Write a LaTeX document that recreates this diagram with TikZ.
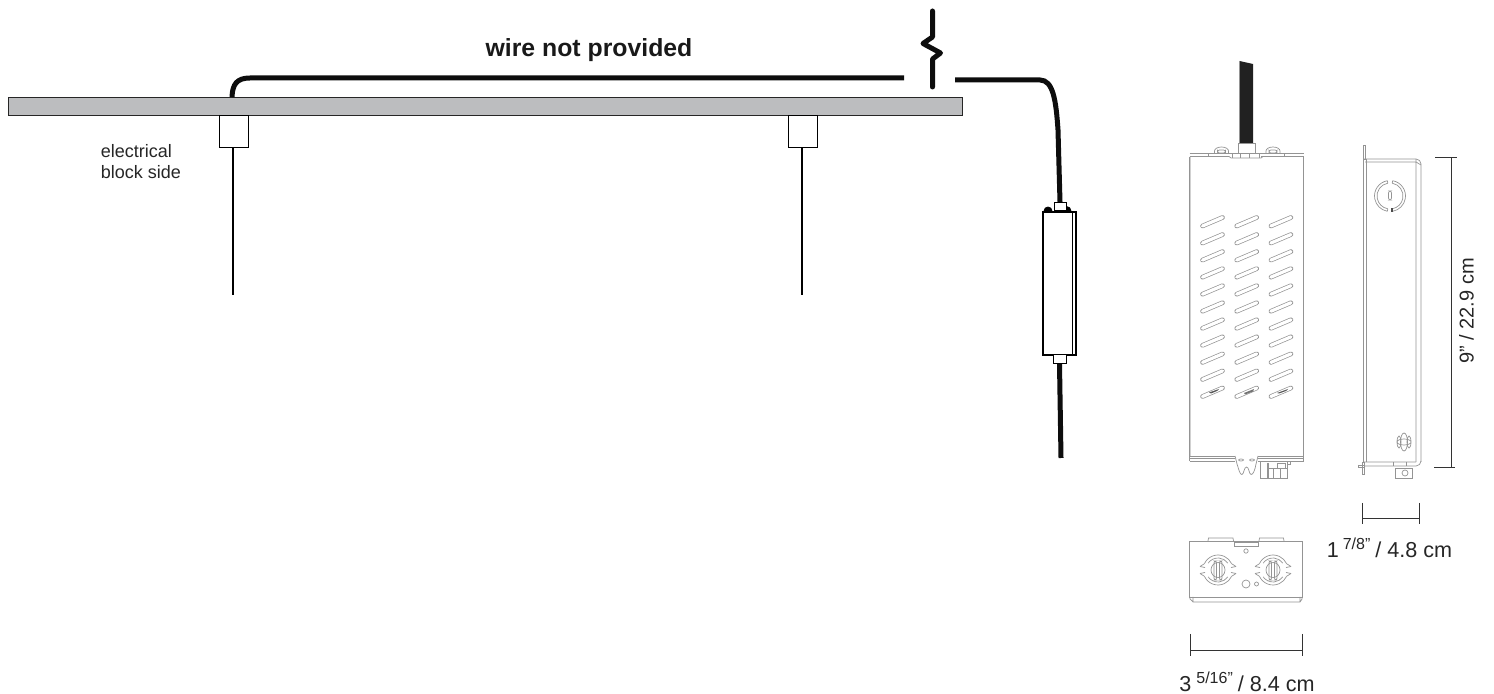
\documentclass[tikz,border=0pt]{standalone}
\usepackage{fontspec}
\setmainfont{Liberation Sans}
\newcommand{\supfrac}[1]{\raisebox{0.36em}{\fontsize{8}{9}\selectfont #1}}
\definecolor{barfill}{HTML}{BCBDBF}
\tikzset{
  x=0.5pt,y=-0.5pt,
  wire/.style={line width=2.5pt,black!95,line cap=round},
  wirebutt/.style={line width=2.5pt,black!95},
  rod/.style={line width=1pt,black},
  block/.style={draw=black,line width=0.5pt,fill=white},
  part/.style={draw=black!42,line width=0.35pt},
  partw/.style={draw=black!42,line width=0.35pt,fill=white},
  dim/.style={draw=black!80,line width=0.5pt},
  txt/.style={inner sep=0pt,font=\fontsize{9}{10.5}\selectfont,text=black!85,align=left},
  dimtxt/.style={inner sep=0pt,font=\fontsize{10.8}{13}\selectfont,text=black!85}
}
\newcommand{\carc}[5]{% cx cy r start end
  \draw[part] ({#1+#3*cos(#4)},{#2+#3*sin(#4)}) arc[start angle=#4,end angle=#5,radius=#3];
}
\begin{document}
\begin{tikzpicture}
\useasboundingbox (0,0) rectangle (1494,694);
% bar
\node[draw=black!85,fill=barfill,line width=0.5pt,minimum width=477pt,minimum height=9pt,inner sep=0pt,anchor=north west] (bar) at (8,97) {};
% left wire
\coordinate (w0) at (232,97);
\coordinate (w1) at (904,78);
\draw[wirebutt] (w0) .. controls (232.5,84) and (237,78) .. (250,78) -- (w1);
% break mark
\coordinate (b0) at (932.5,11);
\coordinate (b1) at (932.5,87);
\draw[wire,line join=round] (b0) -- (932.5,37) -- (923,43.5) -- (940.5,53) -- (932.5,59) -- (b1);
% blocks and rods
\node[block,minimum width=14.5pt,minimum height=16pt,inner sep=0pt,anchor=north west] (blockA) at (219,115) {};
\node[block,minimum width=14.5pt,minimum height=16pt,inner sep=0pt,anchor=north west] (blockB) at (788,115) {};
\coordinate (rodA) at (232.5,295);
\coordinate (rodB) at (802,295);
\draw[rod] (blockA.south -| rodA) -- (rodA);
\draw[rod] (blockB.south -| rodB) -- (rodB);
\node[txt,anchor=north west] (lab1) at (100.5,144) {electrical\\block side};
\node[inner sep=0pt,font=\fontsize{12.4}{14}\bfseries\selectfont,text=black!90] (lab2) at (589,50) {wire not provided};
% driver on the wire
\node[draw=black,line width=0.85pt,fill=white,minimum width=16.5pt,minimum height=71.5pt,inner sep=0pt,anchor=north west] (drv) at (1042,211) {};
\draw[black,line width=0.5pt] (1072.5,211) -- (1072.5,354);
\draw[black,fill=black] (1044,211) arc[start angle=-180,end angle=0,radius=4] -- cycle;
\draw[black,fill=black] (1062,211) arc[start angle=-180,end angle=0,radius=4.5] -- cycle;
\node[draw=black,line width=0.5pt,fill=white,minimum width=6pt,minimum height=4pt,inner sep=0pt,anchor=south] (drvT) at (1060,211) {};
\node[draw=black,line width=0.5pt,fill=white,minimum width=6.5pt,minimum height=4.5pt,inner sep=0pt,anchor=north] (drvB) at (1059.5,354) {};
\coordinate (r0) at (955,80);
\coordinate (r1) at (1061,458);
\draw[wirebutt] (r0) -- (1040,80) .. controls (1053,80) and (1056,100) .. (1058,130) -- (drvT.north);
\draw[wirebutt] (drvB.south) -- (r1);
% front view
\fill[black!87] (1239.5,61) -- (1253,64) -- (1253,143) -- (1239.5,143) -- cycle;
\draw[part] (1239.5,61) -- (1239.5,143);
\draw[part] (1189.5,157) -- (1189.5,461) (1303.5,157) -- (1303.5,461);
\draw[black!18,line width=0.7pt] (1190.5,157) -- (1190.5,456);
\draw[partw] (1214.5,153) -- (1214.5,151) arc[start angle=180,end angle=360,x radius=7,y radius=4] -- (1228.5,153);
\draw[part,rounded corners=1pt] (1217.5,150) rectangle (1225.5,153);
\draw[partw] (1266,153) -- (1266,151) arc[start angle=180,end angle=360,x radius=7,y radius=4] -- (1280,153);
\draw[part,rounded corners=1pt] (1269,150) rectangle (1277,153);
\draw[part] (1189.5,153.5) -- (1303.5,153.5) (1189.5,156.5) -- (1229,156.5) (1261,156.5) -- (1303.5,156.5);
\draw[part] (1229,156.5) -- (1231,158) -- (1261,158) -- (1263,156.5);
\draw[part] (1208.5,153.5) -- (1208.5,156.5) (1232.5,153.5) -- (1232.5,158) (1240,154) -- (1240,158) (1249,154) -- (1249,158) (1259,153.5) -- (1259,158) (1284,153.5) -- (1284,156.5);
\draw[partw] (1238.5,143) rectangle (1255.5,153);
\foreach \r in {0,...,10}{
  \foreach \c in {0,34.2,68.4}{
    \draw[black!42,line width=2.3pt,line cap=round] ({1202.5+\c},{226+17.05*\r}) -- ({1222.5+\c},{217.5+17.05*\r});
    \draw[white,line width=1.6pt,line cap=round] ({1202.5+\c},{226+17.05*\r}) -- ({1222.5+\c},{217.5+17.05*\r});
  }
}
\fill[black!65] (1209,392.5) -- (1219,389) -- (1217,391) -- (1211,393.5) -- cycle;
\fill[black!55] (1244,393) -- (1254,389) -- (1253,391.5) -- (1245,394.5) -- cycle;
\fill[black!65] (1277,393) -- (1288,389) -- (1286,391) -- (1279,393.5) -- cycle;
\draw[part] (1189.5,456) -- (1235,456) (1258,456) -- (1303.5,456) (1189.5,461) -- (1235,461) (1258,461) -- (1303.5,461) (1189.5,458.5) -- (1235,458.5) (1258,458.5) -- (1303.5,458.5);
\draw[part] (1235,456) -- (1237,464) .. controls (1239,470) and (1240,475) .. (1242,474.5) .. controls (1244,474) and (1244,467) .. (1246.5,467) .. controls (1249,467) and (1249,474) .. (1251,474.5) .. controls (1253,475) and (1255,470) .. (1256,464) -- (1258,456);
\draw[part] (1241,460) ellipse[x radius=2.5,y radius=1] (1252,460) ellipse[x radius=2.5,y radius=1];
\draw[part] (1260,461) rectangle (1287,478);
\draw[part] (1267,463) -- (1267,478) (1268.5,463) -- (1268.5,478) (1273,468) -- (1273,478) (1280,468) -- (1280,478) (1268,468) -- (1287,468);
\draw[part] (1277,463) rectangle (1285,468) (1287,461) -- (1290,461) -- (1290,464) -- (1287,464);
% side view
\draw[part] (1363.5,159) -- (1363.5,462) (1366,159) -- (1366,462) (1363,145) rectangle (1365,159);
\draw[part] (1363,159) -- (1416,159) arc[start angle=-90,end angle=0,radius=5] -- (1421,462) (1365,162) -- (1416,162) -- (1416,462);
\draw[part] (1416,159) -- (1416,162) -- (1421,165);
\draw[part] (1364,462) -- (1416,462) (1364,466) -- (1416,466) arc[start angle=90,end angle=0,radius=5];
\draw[part] (1358,465) -- (1364,465) (1358,467.5) -- (1364,467.5) (1362,462) rectangle (1364,474) (1358,465) -- (1358,467.5);
\draw[part] (1395,468) rectangle (1412.5,478);
\draw[part] (1405,473) circle (3);
\draw[part] (1393,462) -- (1393,466) (1406,462) -- (1406,466);
\carc{1390}{196}{15.5}{-100}{-260}
\carc{1390}{196}{13}{-100}{-260}
\carc{1390}{196}{15.5}{-80}{80}
\carc{1390}{196}{13}{-80}{80}
\draw[part] (1387.3,180.7) -- (1387.8,183.2) (1392.7,180.7) -- (1392.2,183.2) (1387.3,211.3) -- (1387.8,208.8) (1392.7,211.3) -- (1392.2,208.8);
\draw[part,rounded corners=1pt] (1388.5,191) rectangle (1391.5,200);
\fill[black!70] (1391,208) rectangle (1393,212);
\draw[part] (1399,442) ellipse[x radius=2,y radius=6] (1409,442) ellipse[x radius=2,y radius=6] (1404,442) ellipse[x radius=7,y radius=3];
\draw[part] (1404,442) ellipse[x radius=3.5,y radius=9];
% bottom view
\draw[part] (1189,541) rectangle (1302.5,597);
\draw[part] (1193,597) -- (1193,602) -- (1300,602) -- (1300,597) (1190,597) -- (1190,599) -- (1193,602) (1302,597) -- (1302,599) -- (1300,602);
\draw[part] (1208,541) -- (1208.5,538) -- (1233,538) -- (1233.5,541) (1259,541) -- (1259.5,538) -- (1283.5,538) -- (1284,541);
\draw[part] (1234,541) rectangle (1258,546) (1234,542.5) -- (1258,542.5);
\foreach \x in {1218,1273}{
  \carc{\x}{570}{15}{-155}{-25}
  \carc{\x}{570}{15}{155}{25}
  \carc{\x}{570}{12}{-145}{-35}
  \carc{\x}{570}{12}{145}{35}
  \draw[part] ({\x-13.6},563.7) -- ({\x-18},566.5) ({\x+13.6},563.7) -- ({\x+18},566.5);
  \draw[part] ({\x-13.6},576.3) -- ({\x-18},573.5) ({\x+13.6},576.3) -- ({\x+18},573.5);
  \draw[part] ({\x-18},566.5) -- ({\x-13},567.5) ({\x+18},566.5) -- ({\x+13},567.5) ({\x-18},573.5) -- ({\x-13},572.5) ({\x+18},573.5) -- ({\x+13},572.5);
  \draw[part] (\x,570) ellipse[x radius=7,y radius=7.5];
  \draw[part,rounded corners=1pt] ({\x-4},561) rectangle ({\x-1.5},580) ({\x+1.5},561) rectangle ({\x+4},580);
}
\draw[part] (1246,551) circle (2.2) (1246,584) circle (4) (1256.5,584) circle (2);
% dimensions
\coordinate (d1a) at (1451,158);
\coordinate (d1b) at (1451,468);
\draw[dim] (1435,158) -- (1457,158) (1434,468) -- (1455,468);
\draw[dim] (d1a) -- (d1b);
\coordinate (d2a) at (1362,519);
\coordinate (d2b) at (1419.5,519);
\draw[dim] (d2a) -- (d2b) (1362,503) -- (1362,524) (1419.5,503) -- (1419.5,524);
\coordinate (d3a) at (1190.5,651);
\coordinate (d3b) at (1302,651);
\draw[dim] (d3a) -- (d3b) (1190.5,634) -- (1190.5,656) (1302,634) -- (1302,656);
\node[dimtxt,rotate=90,font=\fontsize{10}{12}\selectfont] (t1) at (1466.5,311) {9” / 22.9 cm};
\node[dimtxt] (t2) at (1389.5,548) {1\hspace{2pt}\supfrac{7/8”}\hspace{2.5pt}/ 4.8 cm};
\node[dimtxt] (t3) at (1247,682) {3\hspace{2.5pt}\supfrac{5/16”}\hspace{2.5pt}/ 8.4 cm};
\end{tikzpicture}
\end{document}
